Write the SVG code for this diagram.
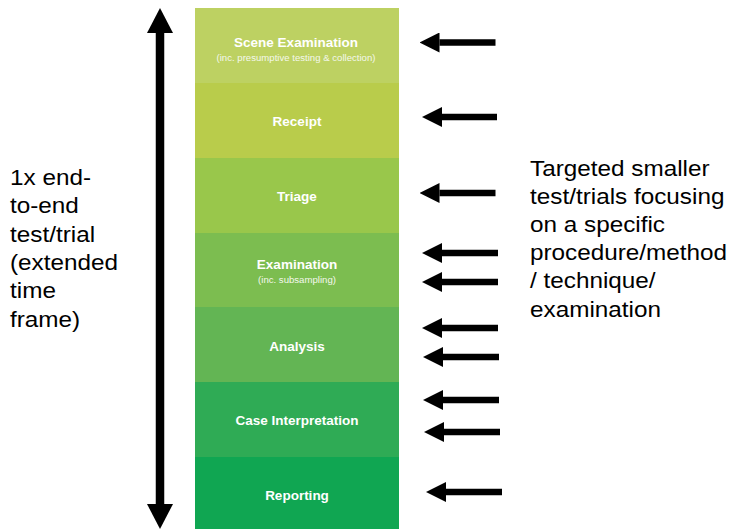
<svg xmlns="http://www.w3.org/2000/svg" width="732" height="529" viewBox="0 0 732 529">
<style>
.band-t{font-family:"Liberation Sans",Arial,sans-serif;font-weight:bold;font-size:13.5px;fill:#ffffff;text-anchor:middle}
.band-s{font-family:"Liberation Sans",Arial,sans-serif;font-size:9.6px;fill:#f4f8ec;text-anchor:middle}
.lbl{font-family:"Liberation Sans",Arial,sans-serif;font-size:22.5px;fill:#000000}
.arr{stroke:#000;stroke-width:6.5;fill:none}
.darr{stroke:#000;stroke-width:8.5;fill:none}
</style>
<defs>
<marker id="ah" viewBox="0 0 20 20" markerWidth="20" markerHeight="20" refX="0" refY="10" orient="auto" markerUnits="userSpaceOnUse">
<path d="M0,0 L20,10 L0,20 z" fill="#000"/>
</marker>
<marker id="dh" viewBox="0 0 25 26" markerWidth="25" markerHeight="26" refX="0" refY="13" orient="auto-start-reverse" markerUnits="userSpaceOnUse">
<path d="M0,0 L25,13 L0,26 z" fill="#000"/>
</marker>
</defs>
<rect width="732" height="529" fill="#ffffff"/>

<g id="scene">
<rect x="195" y="8" width="204" height="75" fill="#bdd162"/>
<text class="band-t" x="296" y="47">Scene Examination</text>
<text class="band-s" x="296" y="61">(inc. presumptive testing &amp; collection)</text>
</g>
<g id="receipt">
<rect x="195" y="83" width="204" height="75" fill="#b9cc4b"/>
<text class="band-t" x="297" y="126">Receipt</text>
</g>
<g id="triage">
<rect x="195" y="158" width="204" height="75" fill="#99c74b"/>
<text class="band-t" x="297" y="201">Triage</text>
</g>
<g id="examination">
<rect x="195" y="233" width="204" height="74" fill="#7cbd50"/>
<text class="band-t" x="297" y="269">Examination</text>
<text class="band-s" x="297" y="283">(inc. subsampling)</text>
</g>
<g id="analysis">
<rect x="195" y="307" width="204" height="75" fill="#63b554"/>
<text class="band-t" x="297" y="351">Analysis</text>
</g>
<g id="case">
<rect x="195" y="382" width="204" height="75" fill="#2fab55"/>
<text class="band-t" x="297" y="425">Case Interpretation</text>
</g>
<g id="reporting">
<rect x="195" y="457" width="204" height="72" fill="#10a652"/>
<text class="band-t" x="297" y="500">Reporting</text>
</g>

<g id="left-label">
<text class="lbl" transform="translate(10,0) scale(1.08,1)">
<tspan x="0" y="185">1x end-</tspan>
<tspan x="0" y="213">to-end</tspan>
<tspan x="0" y="242">test/trial</tspan>
<tspan x="0" y="270">(extended</tspan>
<tspan x="0" y="298">time</tspan>
<tspan x="0" y="327">frame)</tspan>
</text>
</g>
<g id="right-label">
<text class="lbl" transform="translate(530,0) scale(1.08,1)">
<tspan x="0" y="176">Targeted smaller</tspan>
<tspan x="0" y="204">test/trials focusing</tspan>
<tspan x="0" y="232">on a specific</tspan>
<tspan x="0" y="260">procedure/method</tspan>
<tspan x="0" y="288">/ technique/</tspan>
<tspan x="0" y="317">examination</tspan>
</text>
</g>

<g id="connectors">
<line class="darr" x1="160" y1="33" x2="160" y2="504" marker-start="url(#dh)" marker-end="url(#dh)"/>
<line class="arr" x1="495.5" y1="42.5" x2="439.5" y2="42.5" marker-end="url(#ah)"/>
<line class="arr" x1="497" y1="117" x2="442" y2="117" marker-end="url(#ah)"/>
<line class="arr" x1="495.5" y1="193" x2="439.5" y2="193" marker-end="url(#ah)"/>
<line class="arr" x1="498" y1="253" x2="442" y2="253" marker-end="url(#ah)"/>
<line class="arr" x1="498" y1="282" x2="442" y2="282" marker-end="url(#ah)"/>
<line class="arr" x1="498" y1="328" x2="442" y2="328" marker-end="url(#ah)"/>
<line class="arr" x1="499" y1="357" x2="443" y2="357" marker-end="url(#ah)"/>
<line class="arr" x1="499" y1="400" x2="443" y2="400" marker-end="url(#ah)"/>
<line class="arr" x1="500" y1="432" x2="444" y2="432" marker-end="url(#ah)"/>
<line class="arr" x1="502" y1="492" x2="446" y2="492" marker-end="url(#ah)"/>
</g>
</svg>
